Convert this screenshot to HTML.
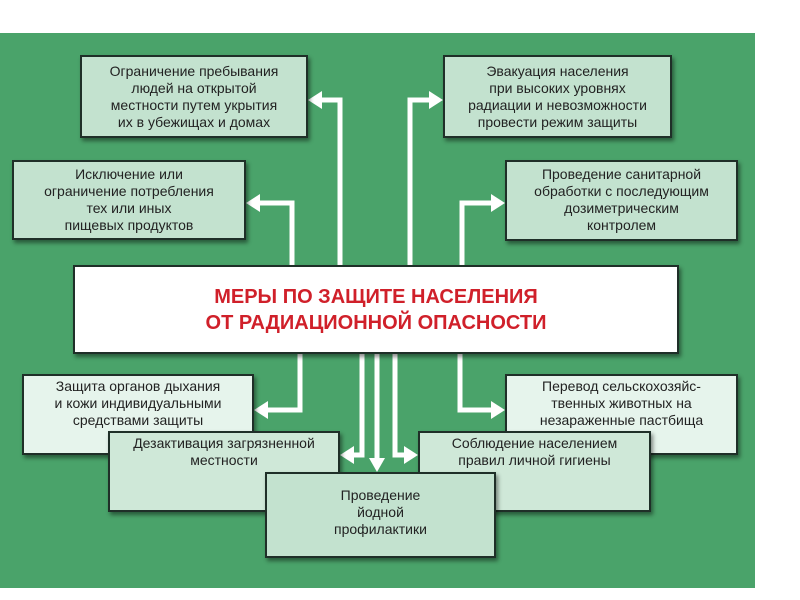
<!DOCTYPE html><html><head><meta charset="utf-8"><style>
body{margin:0;width:800px;height:600px;background:#fff;position:relative;overflow:hidden;font-family:"Liberation Sans",sans-serif}
#g{position:absolute;left:0;top:33px;width:755px;height:555px;background:#4aa36a}
.b{position:absolute;box-sizing:border-box;border:2px solid #1f2f28;background:#c3e2cf;box-shadow:2px 3px 4px rgba(0,0,0,.45);text-align:center;font-size:14px;line-height:17px;color:#222;padding-top:6px;white-space:nowrap}
.l{background:#e6f4ec}
svg{position:absolute;left:0;top:0}
</style></head><body><div id="g"></div>
<svg width="800" height="600">
<g fill="none" stroke="#fff" stroke-width="5">
<path d="M340 265V100H320"/><path d="M292 265V203H258"/>
<path d="M410 265V100H431"/><path d="M462 265V203H493"/>
<path d="M300 354V410H266"/><path d="M460 354V410H493"/>
<path d="M362 354V455H352"/><path d="M377 354V460"/><path d="M395 354V455H406"/>
</g>
<g fill="#fff">
<path d="M308 100l14-9v18z"/><path d="M246 203l14-9v18z"/>
<path d="M443 100l-14-9v18z"/><path d="M505 203l-14-9v18z"/>
<path d="M254 410l14-9v18z"/><path d="M505 410l-14-9v18z"/>
<path d="M340 455l14-9v18z"/><path d="M377 472l-8-14h16z"/><path d="M418 455l-14-9v18z"/>
</g></svg>
<div class="b" style="left:80px;top:55px;width:228px;height:83px">Ограничение пребывания<br>людей на открытой<br>местности путем укрытия<br>их в убежищах и домах</div>
<div class="b" style="left:443px;top:55px;width:229px;height:83px">Эвакуация населения<br>при высоких уровнях<br>радиации и невозможности<br>провести режим защиты</div>
<div class="b" style="left:12px;top:160px;width:234px;height:80px;padding-top:4px">Исключение или<br>ограничение потребления<br>тех или иных<br>пищевых продуктов</div>
<div class="b" style="left:505px;top:160px;width:233px;height:81px;padding-top:4px">Проведение санитарной<br>обработки с последующим<br>дозиметрическим<br>контролем</div>
<div class="b" style="left:73px;top:265px;width:606px;height:89px;background:#fff;color:#d0202a;font-weight:bold;font-size:20px;line-height:26px;padding-top:17px">МЕРЫ ПО ЗАЩИТЕ НАСЕЛЕНИЯ<br>ОТ РАДИАЦИОННОЙ ОПАСНОСТИ</div>
<div class="b l" style="left:22px;top:374px;width:232px;height:81px;padding-top:2px">Защита органов дыхания<br>и кожи индивидуальными<br>средствами защиты</div>
<div class="b l" style="left:505px;top:374px;width:233px;height:81px;padding-top:2px">Перевод сельскохозяйс-<br>твенных животных на<br>незараженные пастбища</div>
<div class="b" style="left:108px;top:431px;width:232px;height:81px;padding-top:2px;background:#cfe8d8">Дезактивация загрязненной<br>местности</div>
<div class="b" style="left:418px;top:431px;width:233px;height:81px;padding-top:2px;background:#cfe8d8">Соблюдение населением<br>правил личной гигиены</div>
<div class="b" style="left:265px;top:472px;width:231px;height:86px;padding-top:13px">Проведение<br>йодной<br>профилактики</div>
</body></html>
